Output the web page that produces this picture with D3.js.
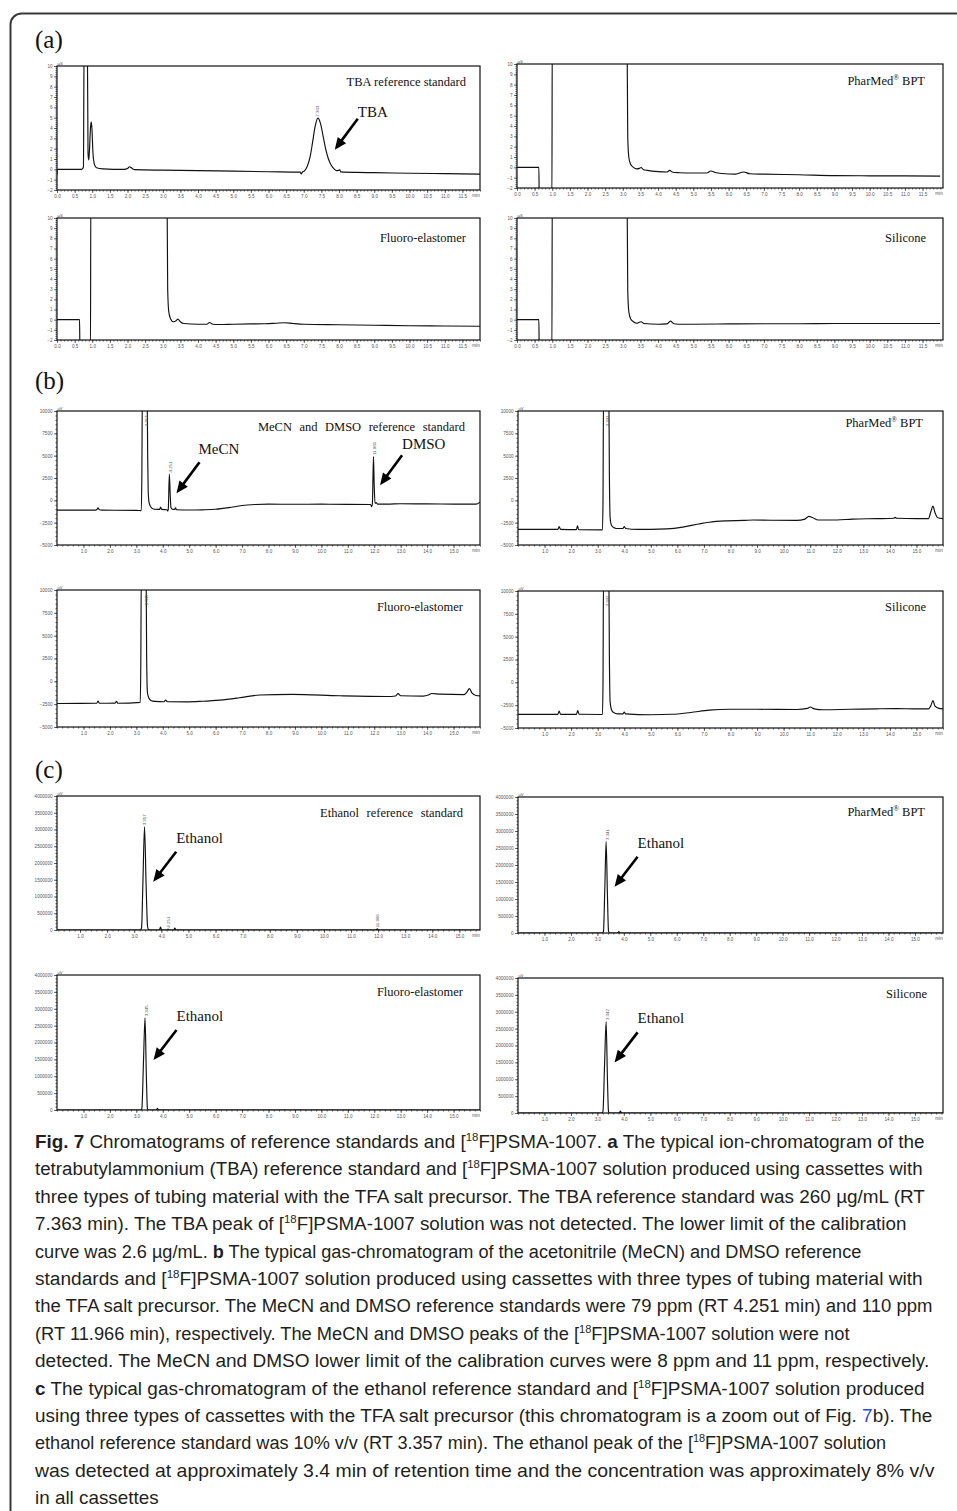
<!DOCTYPE html>
<html><head><meta charset="utf-8">
<script src="https://cdn.jsdelivr.net/npm/d3@7"></script>
<style>body{margin:0;background:#fff}svg{display:block}text{white-space:pre}</style>
</head><body><svg id="fig" width="957" height="1511"></svg>
<script>
// ---------------- DATA ----------------
// (a) ion chromatograms: [time (min), conductivity]
const aRef = [[0,-0.5],[0.01,0],[0.7,0],[0.75,0.2],[0.77,13],[0.86,13],[0.88,1.5],[0.9,0.9],[0.92,1.8],[0.95,4.0],[0.97,4.6],[0.99,4.0],[1.02,1.6],[1.06,0.5],[1.12,0.15],[1.3,0.05],[1.9,0.0],[2.0,0.08],[2.06,0.25],[2.12,0.12],[2.2,-0.03],[3,-0.08],[4,-0.12],[5,-0.18],[6,-0.23],[6.9,-0.27],[6.93,-0.45],[6.96,-0.27],[7.02,-0.15],[7.1,0.3],[7.18,1.2],[7.25,2.6],[7.32,4.1],[7.40,4.95],[7.47,4.5],[7.55,3.2],[7.62,2.0],[7.7,1.0],[7.78,0.4],[7.86,0.05],[7.93,-0.12],[7.98,-0.1],[8.02,-0.05],[8.05,-0.25],[8.5,-0.3],[9,-0.32],[10,-0.38],[11,-0.42],[12,-0.46]];
const aPh = [[0,0],[0.62,0],[0.63,-3],[0.99,-3],[1.0,13],[3.12,13],[3.14,3],[3.17,1],[3.22,0.3],[3.3,0.0],[3.4,-0.15],[3.47,-0.1],[3.52,-0.02],[3.58,-0.2],[3.7,-0.3],[4.0,-0.42],[4.25,-0.45],[4.33,-0.3],[4.42,-0.48],[4.6,-0.52],[5.0,-0.55],[5.38,-0.55],[5.5,-0.35],[5.62,-0.5],[5.8,-0.6],[6.2,-0.66],[6.43,-0.45],[6.6,-0.62],[7.0,-0.66],[8.0,-0.72],[9.0,-0.8],[10,-0.82],[11,-0.83],[12,-0.85]];
const aFl = [[0,0],[0.64,0],[0.65,-3],[0.95,-3],[0.96,13],[3.12,13],[3.14,3],[3.17,0.8],[3.22,0.1],[3.3,-0.2],[3.38,-0.1],[3.43,0.05],[3.5,-0.2],[3.6,-0.38],[4.0,-0.45],[4.25,-0.45],[4.33,-0.28],[4.42,-0.45],[4.6,-0.48],[5.0,-0.45],[5.5,-0.42],[5.9,-0.4],[6.2,-0.35],[6.45,-0.3],[6.7,-0.38],[7.0,-0.45],[8.0,-0.5],[9,-0.55],[10,-0.6],[11,-0.62],[12,-0.65]];
const aSi = [[0,0],[0.62,0],[0.63,-3],[0.99,-3],[1.0,13],[3.12,13],[3.14,3],[3.17,0.8],[3.22,0.1],[3.3,-0.2],[3.4,-0.35],[3.47,-0.25],[3.52,-0.2],[3.6,-0.38],[4.0,-0.45],[4.25,-0.42],[4.35,-0.15],[4.45,-0.4],[4.7,-0.45],[5.0,-0.45],[6,-0.42],[7,-0.4],[8,-0.4],[9,-0.38],[10,-0.38],[11,-0.38],[12,-0.38]];
// (b) gas chromatograms: [time (min), uV]
const bRef = [[0,-1100],[1.45,-1100],[1.52,-1000],[1.55,-850],[1.6,-1050],[1.7,-1100],[3.0,-1130],[3.19,-1150],[3.21,3000],[3.23,12000],[3.41,12000],[3.43,5000],[3.45,1000],[3.48,-200],[3.53,-650],[3.6,-900],[3.7,-1000],[3.88,-1020],[3.92,-750],[3.96,-1020],[4.16,-1050],[4.19,-1200],[4.21,-950],[4.25,2950],[4.28,800],[4.31,-800],[4.36,-1000],[4.45,-1020],[4.48,-850],[4.52,-1050],[5,-1080],[5.5,-1060],[6,-1000],[6.5,-820],[7.0,-580],[7.5,-470],[8,-430],[9,-440],[10,-430],[11,-450],[11.86,-470],[11.9,-720],[11.93,-350],[11.97,4900],[12.0,1500],[12.03,-350],[12.07,-250],[12.12,-420],[12.5,-420],[13,-380],[14,-400],[15,-420],[15.85,-430],[16,-200]];
const bPh = [[0,-3250],[1.5,-3250],[1.55,-2950],[1.6,-3250],[2.2,-3280],[2.24,-2850],[2.28,-3280],[3.18,-3300],[3.2,0],[3.22,12000],[3.42,12000],[3.44,3000],[3.47,-2000],[3.52,-2800],[3.6,-3050],[3.7,-3150],[3.95,-3150],[4.0,-2950],[4.05,-3150],[4.5,-3250],[5,-3250],[5.6,-3200],[6.2,-3000],[6.8,-2650],[7.2,-2450],[7.85,-2300],[8.5,-2250],[8.86,-2200],[9.5,-2230],[10.5,-2250],[10.8,-2100],[10.95,-1800],[11.1,-1950],[11.3,-2200],[12,-2200],[12.6,-2100],[13.5,-2050],[14.15,-2000],[14.2,-1900],[14.25,-2000],[15.0,-2050],[15.45,-2050],[15.55,-1200],[15.62,-650],[15.7,-1400],[15.8,-1950],[16,-2050]];
const bFl = [[0,-2430],[1.5,-2400],[1.56,-2150],[1.6,-2400],[2.2,-2380],[2.25,-2200],[2.3,-2400],[3.15,-2300],[3.17,2000],[3.19,12000],[3.37,12000],[3.39,3000],[3.42,-1200],[3.47,-1800],[3.55,-2100],[3.7,-2200],[4.05,-2230],[4.11,-2050],[4.17,-2230],[4.9,-2250],[5.5,-2180],[6.16,-2050],[6.9,-1800],[7.66,-1500],[8.9,-1430],[10.7,-1580],[12.5,-1660],[12.8,-1600],[12.9,-1350],[13.0,-1580],[13.85,-1620],[14.05,-1500],[14.18,-1330],[14.5,-1400],[15.4,-1450],[15.5,-1200],[15.6,-800],[15.7,-1300],[15.85,-1550],[16,-1600]];
const bSi = [[0,-3500],[1.5,-3500],[1.55,-3150],[1.6,-3500],[2.2,-3500],[2.25,-3100],[2.3,-3500],[3.18,-3520],[3.2,0],[3.22,12000],[3.42,12000],[3.44,3000],[3.47,-2200],[3.52,-3000],[3.6,-3300],[3.75,-3450],[3.95,-3450],[4.0,-3250],[4.05,-3450],[5,-3550],[5.8,-3500],[6.5,-3300],[7.2,-3050],[8,-2950],[9,-2950],[10.5,-2970],[10.9,-2850],[11.0,-2700],[11.15,-2900],[11.5,-3000],[12.5,-2950],[13.5,-2900],[14.2,-2880],[15.0,-2900],[15.45,-2900],[15.55,-2500],[15.62,-2000],[15.7,-2600],[15.85,-2850],[16,-2900]];
// (c) gas chromatograms, zoomed out: [time (min), uV]
const cRef = [[0.15,0],[3.22,0],[3.27,60000],[3.32,1400000],[3.38,3080000],[3.44,1300000],[3.49,120000],[3.53,5000],[3.56,0],[3.93,0],[3.97,90000],[4.01,0],[4.22,0],[4.25,25000],[4.28,0],[4.46,0],[4.5,60000],[4.54,0],[11.93,0],[11.97,35000],[12.01,0],[15.76,0]];
const cPh = [[0,0],[3.19,0],[3.23,50000],[3.28,1300000],[3.33,2690000],[3.38,1100000],[3.42,60000],[3.46,0],[3.77,0],[3.81,45000],[3.85,0],[16.06,0]];
const cFl = [[0,0],[3.17,0],[3.21,50000],[3.27,1400000],[3.33,2730000],[3.38,1000000],[3.42,50000],[3.46,0],[3.76,0],[3.8,50000],[3.84,0],[16,0]];
const cSi = [[0,0],[3.17,0],[3.21,50000],[3.27,1400000],[3.33,2710000],[3.38,1000000],[3.42,50000],[3.46,0],[3.83,0],[3.87,55000],[3.91,0],[16.06,0]];

// tick labels
const X_TICKS_A = [0,0.5,1,1.5,2,2.5,3,3.5,4,4.5,5,5.5,6,6.5,7,7.5,8,8.5,9,9.5,10,10.5,11,11.5];
const Y_TICKS_A = [-2,-1,0,1,2,3,4,5,6,7,8,9,10];
const X_TICKS_BC = [1,2,3,4,5,6,7,8,9,10,11,12,13,14,15];
const Y_TICKS_B = [-5000,-2500,0,2500,5000,7500,10000];
const Y_TICKS_C = [0,500000,1000000,1500000,2000000,2500000,3000000,3500000,4000000];
const UNITS = {a:"µS", b:"uV", c:"uV"};

// panel texts
const panelIds = ["aRef","aPh","aFl","aSi","bRef","bPh","bFl","bSi","cRef","cPh","cFl","cSi"];
const panelTitles = ["TBA reference standard","PharMed® BPT","Fluoro-elastomer","Silicone",
  "MeCN and DMSO reference standard","PharMed® BPT","Fluoro-elastomer","Silicone",
  "Ethanol reference standard","PharMed® BPT","Fluoro-elastomer","Silicone"];
const sectionLabels = ["(a)","(b)","(c)"];
const peakLabels = {aRef:[[7.363,"7.363"]], bRef:[[3.357,"3.357"],[4.251,"4.251"],[11.966,"11.966"]],
  bPh:[[3.341,"3.341"]], bFl:[[3.345,"3.345"]], bSi:[[3.342,"3.342"]],
  cRef:[[3.357,"3.357"],[4.251,"4.251"],[11.966,"11.966"]], cPh:[[3.341,"3.341"]], cFl:[[3.345,"3.345"]], cSi:[[3.342,"3.342"]]};
const callouts = [
  {panel:"aRef", text:"TBA", tip:[7.88,1.9]},
  {panel:"bRef", text:"MeCN", tip:[4.52,800]},
  {panel:"bRef", text:"DMSO", tip:[12.22,1700]},
  {panel:"cRef", text:"Ethanol", tip:[3.70,1440000]},
  {panel:"cPh", text:"Ethanol", tip:[3.65,1360000]},
  {panel:"cFl", text:"Ethanol", tip:[3.65,1480000]},
  {panel:"cSi", text:"Ethanol", tip:[3.65,1500000]}
];
const captionLines = [
 "{b:Fig. 7} Chromatograms of reference standards and [{s:18}F]PSMA-1007. {b:a} The typical ion-chromatogram of the",
 "tetrabutylammonium (TBA) reference standard and [{s:18}F]PSMA-1007 solution produced using cassettes with",
 "three types of tubing material with the TFA salt precursor. The TBA reference standard was 260 µg/mL (RT",
 "7.363 min). The TBA peak of [{s:18}F]PSMA-1007 solution was not detected. The lower limit of the calibration",
 "curve was 2.6 µg/mL. {b:b} The typical gas-chromatogram of the acetonitrile (MeCN) and DMSO reference",
 "standards and [{s:18}F]PSMA-1007 solution produced using cassettes with three types of tubing material with",
 "the TFA salt precursor. The MeCN and DMSO reference standards were 79 ppm (RT 4.251 min) and 110 ppm",
 "(RT 11.966 min), respectively. The MeCN and DMSO peaks of the [{s:18}F]PSMA-1007 solution were not",
 "detected. The MeCN and DMSO lower limit of the calibration curves were 8 ppm and 11 ppm, respectively.",
 "{b:c} The typical gas-chromatogram of the ethanol reference standard and [{s:18}F]PSMA-1007 solution produced",
 "using three types of cassettes with the TFA salt precursor (this chromatogram is a zoom out of Fig. {l:7}b). The",
 "ethanol reference standard was 10% v/v (RT 3.357 min). The ethanol peak of the [{s:18}F]PSMA-1007 solution",
 "was detected at approximately 3.4 min of retention time and the concentration was approximately 8% v/v",
 "in all cassettes"
];

// ---------------- LAYOUT ----------------
const traces = {aRef,aPh,aFl,aSi,bRef,bPh,bFl,bSi,cRef,cPh,cFl,cSi};
const layout = {
  aRef:{x:57,y:66,w:423,h:124,xd:[0,12],   tEnd:466,tBase:86},
  aPh: {x:517,y:64,w:426,h:124,xd:[0,12.08],tEnd:925,tBase:85},
  aFl: {x:57,y:218,w:423,h:122,xd:[0,12],  tEnd:466,tBase:242},
  aSi: {x:517,y:218,w:426,h:122,xd:[0,12.08],tEnd:926,tBase:242},
  bRef:{x:57,y:411,w:423,h:134,xd:[0,16],  tEnd:465,tBase:431,ws:4.4},
  bPh: {x:518,y:411,w:425,h:134,xd:[0,16], tEnd:923,tBase:427},
  bFl: {x:57,y:590,w:423,h:137,xd:[0,16],  tEnd:463,tBase:611},
  bSi: {x:518,y:591,w:425,h:137,xd:[0,16], tEnd:926,tBase:611},
  cRef:{x:57,y:796,w:423,h:134,xd:[0.15,15.76],tEnd:463,tBase:817,ws:4.5},
  cPh: {x:518,y:797,w:425,h:136,xd:[0,16.06],tEnd:925,tBase:816},
  cFl: {x:57,y:975,w:423,h:135,xd:[0,16],  tEnd:463,tBase:996},
  cSi: {x:518,y:978,w:425,h:135,xd:[0,16.06],tEnd:927,tBase:998}
};
const yDomains = {a:[-2,10], b:[-5000,10000], c:[0,4000000]};
const yTicks = {a:Y_TICKS_A, b:Y_TICKS_B, c:Y_TICKS_C};
const yMinor = {a:0.2, b:500, c:100000};
const xTicks = {a:X_TICKS_A, b:X_TICKS_BC, c:X_TICKS_BC};
const xMinor = {a:0.1, b:0.2, c:0.2};
const calloutGeom = {TBA:{tail:[23,-31],lab:[0,-2]}, MeCN:{tail:[23,-31],lab:[-1,-8]}, DMSO:{tail:[22,-30],lab:[0,-6]}, Ethanol:{tail:[23,-30],lab:[0,-9]}};
const sectionLabelY = [48, 389, 778];

const svg = d3.select("#fig");
const defs = svg.append("defs");
svg.append("rect").attr("x",10.5).attr("y",13.5).attr("width",990).attr("height",1540).attr("rx",11)
  .attr("fill","none").attr("stroke","#3a3a3a").attr("stroke-width",2);

const SERIF = "'Liberation Serif','Times New Roman',serif";
const TICKF = "'Liberation Sans',Arial,sans-serif";
const scales = {};

sectionLabels.forEach((s,i)=>{
  svg.append("text").attr("x",35).attr("y",sectionLabelY[i]).attr("font-family",SERIF)
    .attr("font-size",25).attr("fill","#111").text(s);
});

panelIds.forEach((id,i)=>{
  const L = layout[id], k = id[0];
  const x = d3.scaleLinear().domain(L.xd).range([L.x, L.x+L.w]);
  const y = d3.scaleLinear().domain(yDomains[k]).range([L.y+L.h, L.y]);
  scales[id] = {x,y};
  const g = svg.append("g");
  const cid = "clip-"+id;
  defs.append("clipPath").attr("id",cid).append("rect").attr("x",L.x).attr("y",L.y).attr("width",L.w).attr("height",L.h);

  // minor ticks
  const ymn = d3.range(yDomains[k][0], yDomains[k][1]+1e-9, yMinor[k]);
  const xmn = d3.range(Math.ceil(L.xd[0]/xMinor[k])*xMinor[k], L.xd[1]+1e-9, xMinor[k]);
  const yAxisMinor = d3.axisLeft(y).tickValues(ymn).tickSize(1.6).tickFormat("");
  const xAxisMinor = d3.axisBottom(x).tickValues(xmn).tickSize(1.6).tickFormat("");
  g.append("g").attr("transform",`translate(${L.x},0)`).call(yAxisMinor).call(a=>a.select(".domain").remove());
  g.append("g").attr("transform",`translate(0,${L.y+L.h})`).call(xAxisMinor).call(a=>a.select(".domain").remove());
  // major ticks
  const yAxis = d3.axisLeft(y).tickValues(yTicks[k]).tickSize(3).tickPadding(1.5).tickFormat(d3.format("d"));
  const xfmt = d3.format(".1f");
  const xAxis = d3.axisBottom(x).tickValues(xTicks[k].filter(v=>v>=L.xd[0])).tickSize(3).tickPadding(1.5).tickFormat(xfmt);
  const ya = g.append("g").attr("transform",`translate(${L.x},0)`).call(yAxis);
  const xa = g.append("g").attr("transform",`translate(0,${L.y+L.h})`).call(xAxis);
  [ya,xa].forEach(a=>{a.select(".domain").remove();
    a.selectAll("text").attr("font-size",4.6).attr("font-family",TICKF).attr("fill","#555");});
  g.selectAll(".tick line").attr("stroke","#333").attr("stroke-width",0.7);
  // unit & min labels
  g.append("text").attr("x",L.x+0.5).attr("y",L.y-0.8).attr("font-size",4.2).attr("font-family",TICKF).attr("fill","#555").text(UNITS[k]);
  g.append("text").attr("x",L.x+L.w-4).attr("y",L.y+L.h+7.2).attr("font-size",4.6).attr("font-family",TICKF)
    .attr("fill","#555").attr("text-anchor","middle").text("min");

  // trace
  const line = d3.line().x(d=>x(d[0])).y(d=>y(d[1])).curve(d3.curveMonotoneX);
  g.append("path").datum(traces[id]).attr("clip-path",`url(#${cid})`).attr("d",line)
    .attr("fill","none").attr("stroke","#111").attr("stroke-width",1.15).attr("stroke-linejoin","round");

  // frame
  g.append("rect").attr("x",L.x).attr("y",L.y).attr("width",L.w).attr("height",L.h)
    .attr("fill","none").attr("stroke","#111").attr("stroke-width",1.2);

  // peak labels
  (peakLabels[id]||[]).forEach(([t,lab])=>{
    const near = traces[id].filter(d=>Math.abs(d[0]-t)<0.12);
    const vmax = d3.max(near,d=>d[1]);
    let py = y(vmax);
    if (py < L.y+2) py = L.y+17;
    const px = x(t)+2.2;
    g.append("text").attr("transform",`translate(${px},${py-1.5}) rotate(-90)`)
      .attr("font-size",4.4).attr("font-family",TICKF).attr("fill","#555").text(lab);
  });

  // title
  const title = panelTitles[i];
  const tt = g.append("text").attr("x",L.tEnd).attr("y",L.tBase).attr("text-anchor","end")
    .attr("font-family",SERIF).attr("font-size",12.5).attr("fill","#111");
  if (L.ws) tt.attr("word-spacing",L.ws);
  if (title.includes("®")) {
    const parts = title.split("®");
    tt.append("tspan").text(parts[0]);
    tt.append("tspan").attr("font-size",7.5).attr("dy",-5).text("®");
    tt.append("tspan").attr("dy",5).text(parts[1]);
  } else tt.text(title);
});

// callouts (arrows + labels)
callouts.forEach(c=>{
  const s = scales[c.panel], G = calloutGeom[c.text];
  const tx = s.x(c.tip[0]), ty = s.y(c.tip[1]);
  const sx = tx+G.tail[0], sy = ty+G.tail[1];
  const ang = Math.atan2(ty-sy, tx-sx), Lh = 12, Wh = 5.2;
  const bx = tx - Lh*Math.cos(ang), by = ty - Lh*Math.sin(ang);
  const nx = -Math.sin(ang), ny = Math.cos(ang);
  svg.append("line").attr("x1",sx).attr("y1",sy).attr("x2",bx+Math.cos(ang)).attr("y2",by+Math.sin(ang))
    .attr("stroke","#000").attr("stroke-width",2.6);
  svg.append("path").attr("d",`M${tx},${ty}L${bx+nx*Wh},${by+ny*Wh}L${bx-nx*Wh},${by-ny*Wh}Z`).attr("fill","#000");
  svg.append("text").attr("x",sx+G.lab[0]).attr("y",sy+G.lab[1]).attr("font-family",SERIF)
    .attr("font-size",15).attr("fill","#111").text(c.text);
});

// caption
const capEnds = [925,923,925,907,862,923,933,850,930,925,933,837,935,null];
const capX = 35, capY0 = 1148, capDY = 27.4;
const capTexts = [];
captionLines.forEach((str,i)=>{
  const t = svg.append("text").attr("x",0).attr("y",0)
    .attr("font-family","'Liberation Sans Narrow','Arial Narrow','Liberation Sans',sans-serif")
    .attr("font-size",19).attr("fill","#231f20");
  const re = /\{(b|s|l):([^}]*)\}/g; let last=0, m, pend=0;
  const add=(txt,type)=>{ const ts=t.append("tspan").text(txt);
    if(pend){ts.attr("dy",pend); pend=0;}
    if(type==="b") ts.attr("font-weight","bold");
    if(type==="l") ts.attr("fill","#2b4bd3");
    if(type==="s"){ts.attr("font-size",11.5).attr("dy",-7); pend=7;} };
  while((m=re.exec(str))){ if(m.index>last) add(str.slice(last,m.index)); add(m[2],m[1]); last=re.lastIndex; }
  if(last<str.length) add(str.slice(last));
  capTexts.push(t);
});
// uniform horizontal condensation (keeps glyph widths consistent between lines)
const natural = capTexts.map(t=>t.node().getComputedTextLength());
const ratios = capEnds.map((e,i)=>e ? (e-capX)/natural[i] : null).filter(r=>r);
const rMed = d3.median(ratios);
capTexts.forEach((t,i)=>{
  let r = capEnds[i] ? (capEnds[i]-capX)/natural[i] : rMed;
  r = Math.max(rMed*0.96, Math.min(rMed*1.04, r));
  t.attr("transform",`translate(${capX},${capY0+i*capDY}) scale(${r},1)`);
});
</script>
</body></html>
